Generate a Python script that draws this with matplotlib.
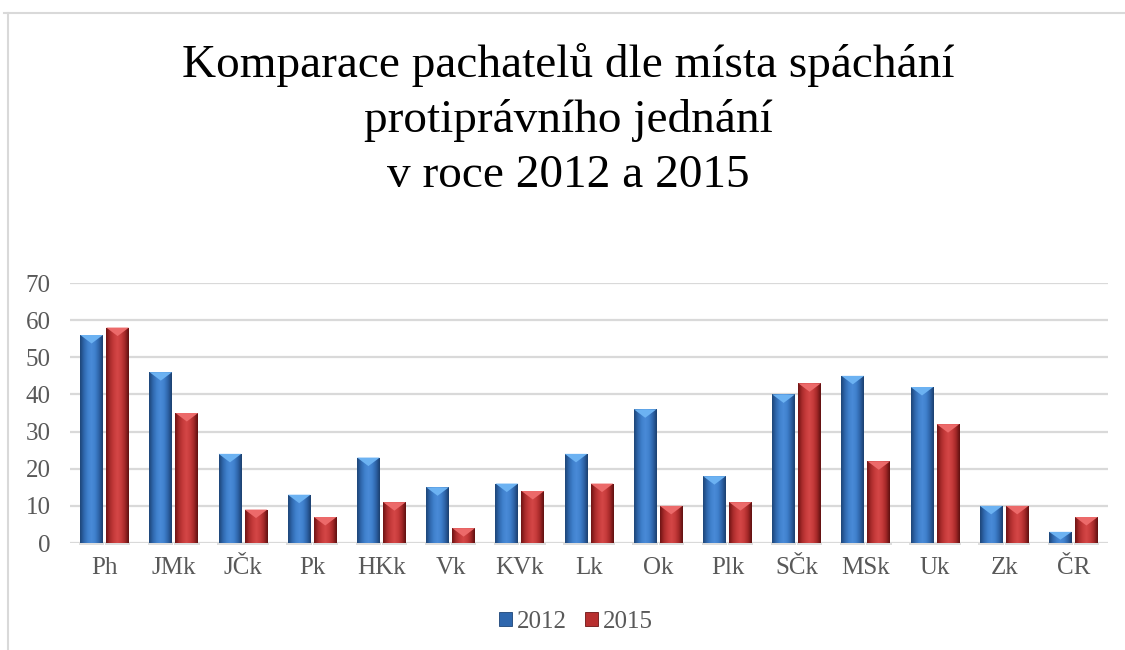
import numpy as np
import matplotlib
matplotlib.use("Agg")
import matplotlib.pyplot as plt
from matplotlib.colors import LinearSegmentedColormap
from matplotlib.patches import Polygon, Patch, Rectangle

categories = ["Ph", "JMk", "JČk", "Pk", "HKk", "Vk", "KVk", "Lk", "Ok", "Plk", "SČk", "MSk", "Uk", "Zk", "ČR"]
values_2012 = [56, 46, 24, 13, 23, 15, 16, 24, 36, 18, 40, 45, 42, 10, 3]
values_2015 = [58, 35, 9, 7, 11, 4, 14, 16, 10, 11, 43, 22, 32, 10, 7]
series_labels = ["2012", "2015"]
y_ticks = [0, 10, 20, 30, 40, 50, 60, 70]
title_lines = ["Komparace pachatelů dle místa spáchání", "protiprávního jednání", "v roce 2012 a 2015"]

W, H = 1125, 650
fig = plt.figure(figsize=(W / 100, H / 100), dpi=100)
fig.patch.set_facecolor("white")

serif = ["Liberation Serif", "DejaVu Serif"]
gray = "#595959"
grid_c = "#d9d9d9"

# outer border
fig.add_artist(plt.Line2D([4 / W, 1], [1 - 12.5 / H, 1 - 12.5 / H], color=grid_c, lw=1.5, transform=fig.transFigure))
fig.add_artist(plt.Line2D([8 / W, 8 / W], [0, 1 - 12.5 / H], color=grid_c, lw=1.5, transform=fig.transFigure))

ax = fig.add_axes([70 / W, 1 - 543 / H, (1108 - 70) / W, (543 - 283) / H])
ax.set_xlim(-0.5, len(categories) - 0.5)
ax.set_ylim(0, 70)
for s in ax.spines.values():
    s.set_visible(False)
ax.set_yticks(y_ticks)
ax.yaxis.grid(True, color=grid_c, lw=1.6)
ax.set_axisbelow(True)
ax.tick_params(axis="both", length=0, labelsize=18, labelcolor=gray)
ax.tick_params(axis="y", pad=14)
ax.tick_params(axis="x", pad=10)
ax.set_xticks(np.arange(len(categories)))
ax.set_xticklabels(categories)
for lab in ax.get_xticklabels() + ax.get_yticklabels():
    lab.set_fontfamily(serif)

x = np.arange(len(categories))
bw = 0.327
off = 0.188

cmaps = {
    "blue": LinearSegmentedColormap.from_list("b", ["#1d4577", "#2f67ad", "#3f80cc", "#4a8bd8", "#3f80cc", "#2e64a8", "#1b3f6e"]),
    "red": LinearSegmentedColormap.from_list("r", ["#6e1414", "#a82b2b", "#c63b3b", "#d44747", "#c63b3b", "#a32828", "#5e1010"]),
}
tops = {"blue": "#6cb2f2", "red": "#ec6a6a"}
bases = {"blue": "#3a78c4", "red": "#c43a3a"}

grad = np.linspace(0, 1, 64).reshape(1, -1)
px_per_unit = (543 - 283) / 70.0

def bevel_bars(bars, key):
    for b in bars:
        bx, bwid, bh = b.get_x(), b.get_width(), b.get_height()
        ax.add_patch(Rectangle((bx - 0.02, -0.6), bwid + 0.04, 0.6, color="#c8c8c8", alpha=0.6, lw=0, zorder=2, clip_on=False))
        im = ax.imshow(grad, cmap=cmaps[key], extent=(bx, bx + bwid, 0, bh), aspect="auto", zorder=3, interpolation="bicubic")
        im.set_clip_path(b)
        depth = min(8.5 / px_per_unit, bh * 0.7)
        tri = Polygon([(bx, bh), (bx + bwid, bh), (bx + bwid / 2, bh - depth)],
                      closed=True, facecolor=tops[key], edgecolor="none", zorder=4)
        ax.add_patch(tri)
    ax.set_xlim(-0.5, len(categories) - 0.5)
    ax.set_ylim(0, 70)

bars1 = ax.bar(x - off, values_2012, bw, color=bases["blue"], zorder=3, lw=0)
bars2 = ax.bar(x + off, values_2015, bw, color=bases["red"], zorder=3, lw=0)
bevel_bars(bars1, "blue")
bevel_bars(bars2, "red")

# title
baselines = [77, 132, 187]
for line, yb in zip(title_lines, baselines):
    fig.text(568 / W, 1 - yb / H, line, ha="center", va="baseline", fontsize=34, family=serif, color="black")

handles = [Patch(facecolor="#2f67ad", edgecolor="#1d4577", lw=0.6), Patch(facecolor="#b83030", edgecolor="#6e1414", lw=0.6)]
leg = fig.legend(handles, series_labels, loc="center", bbox_to_anchor=(576 / W, 1 - 622 / H), ncol=2, frameon=False,
                 prop={"family": serif, "size": 18}, handlelength=0.52, handleheight=0.52, handletextpad=0.2, columnspacing=0.7)
for t in leg.get_texts():
    t.set_color(gray)

fig.savefig("out.png", dpi=100, facecolor="white")
